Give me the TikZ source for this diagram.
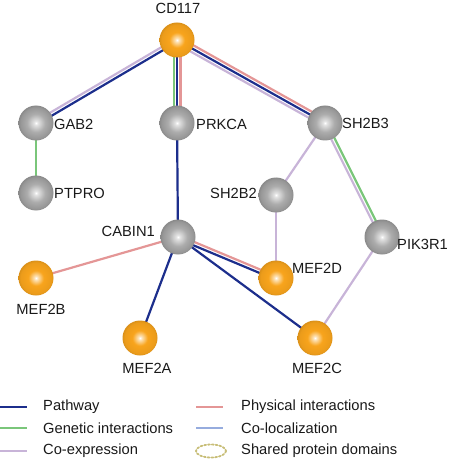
\documentclass[tikz,border=0pt]{standalone}
\usepackage{fontspec}
\setmainfont{Liberation Sans}
\usepackage{tikz}
\usetikzlibrary{calc, backgrounds}

\definecolor{pathway}{RGB}{28,46,140}
\definecolor{genetic}{RGB}{122,198,122}
\definecolor{coexp}{RGB}{200,180,216}
\definecolor{physical}{RGB}{228,150,150}
\definecolor{coloc}{RGB}{150,172,222}
\definecolor{domaincol}{RGB}{200,190,120}
\definecolor{nodeorange}{RGB}{248,164,28}
\definecolor{nodegray}{RGB}{172,172,172}

\pgfdeclareradialshading{orangeball}{\pgfpoint{0bp}{0bp}}{color(0bp)=(white); color(3bp)=(nodeorange!35!white); color(11bp)=(nodeorange); color(22bp)=(nodeorange!95!black); color(25bp)=(nodeorange!88!black); color(50bp)=(nodeorange!88!black)}
\pgfdeclareradialshading{grayball}{\pgfpoint{0bp}{0bp}}{color(0bp)=(white); color(3bp)=(nodegray!35!white); color(13bp)=(nodegray); color(22bp)=(nodegray!88!black); color(25bp)=(nodegray!80!black); color(50bp)=(nodegray!80!black)}

% one strand of a (possibly multi-coloured) link, shifted sideways by #4
\newcommand{\strand}[4]{\draw[link, draw=#3] ($(#1.center)!#4!90:(#2.center)$) -- ($(#2.center)!#4!-90:(#1.center)$);}

\begin{document}
\begin{tikzpicture}[x=1pt, y=-1pt,
    link/.style={line width=2.2pt},
    ball/.style={circle, minimum size=35pt, inner sep=0pt, shading=grayball},
    hub/.style={ball, shading=orangeball},
    lbl/.style={inner sep=0pt, font=\fontsize{14.7pt}{17pt}\selectfont, text=black!90}]
    \useasboundingbox (0,0) rectangle (450,462);

    % Genes
    \node[hub]  (cd117)  at (177,40)  {};
    \node[ball] (gab2)   at (36,123)  {};
    \node[ball] (prkca)  at (177,123) {};
    \node[ball] (sh2b3)  at (325,123) {};
    \node[ball] (ptpro)  at (36,193)  {};
    \node[ball] (sh2b2)  at (276,195) {};
    \node[ball] (cabin1) at (178,237) {};
    \node[ball] (pik3r1) at (382,237) {};
    \node[hub]  (mef2b)  at (36,278)  {};
    \node[hub]  (mef2d)  at (276,278) {};
    \node[hub]  (mef2a)  at (140,338) {};
    \node[hub]  (mef2c)  at (315,338) {};

    % Gene names
    \node[lbl] (cd117-l)  at (178,8)   {CD117};
    \node[lbl, anchor=west] (gab2-l)   at (54,124)  {GAB2};
    \node[lbl, anchor=west] (prkca-l)  at (196,124) {PRKCA};
    \node[lbl, anchor=west] (sh2b3-l)  at (342,123) {SH2B3};
    \node[lbl, anchor=west] (ptpro-l)  at (54,193)  {PTPRO};
    \node[lbl, anchor=east] (sh2b2-l)  at (257,193) {SH2B2};
    \node[lbl, anchor=west] (pik3r1-l) at (397,244) {PIK3R1};
    \node[lbl, anchor=east] (cabin1-l) at (155,231) {CABIN1};
    \node[lbl] (mef2b-l)  at (41,309)  {MEF2B};
    \node[lbl] (mef2d-l)  at (317,268) {MEF2D};
    \node[lbl] (mef2a-l)  at (147,368) {MEF2A};
    \node[lbl] (mef2c-l)  at (317,368) {MEF2C};

    % Links
    \begin{scope}[on background layer]
        \strand{cd117}{gab2}{pathway}{1.7pt}
        \strand{cd117}{gab2}{coexp}{-1.7pt}
        \strand{cd117}{prkca}{genetic}{-3.4pt}
        \strand{cd117}{prkca}{pathway}{0pt}
        \strand{cd117}{prkca}{physical}{3.4pt}
        \strand{cd117}{sh2b3}{physical}{3.4pt}
        \strand{cd117}{sh2b3}{pathway}{0pt}
        \strand{cd117}{sh2b3}{coexp}{-3.4pt}
        \strand{gab2}{ptpro}{genetic}{0pt}
        \strand{prkca}{cabin1}{pathway}{0pt}
        \strand{sh2b3}{sh2b2}{coexp}{0pt}
        \strand{sh2b3}{pik3r1}{genetic}{1.7pt}
        \strand{sh2b3}{pik3r1}{coexp}{-1.7pt}
        \strand{sh2b2}{mef2d}{coexp}{0pt}
        \strand{cabin1}{mef2b}{physical}{0pt}
        \strand{cabin1}{mef2d}{physical}{1.7pt}
        \strand{cabin1}{mef2d}{pathway}{-1.7pt}
        \strand{cabin1}{mef2a}{pathway}{0pt}
        \strand{cabin1}{mef2c}{pathway}{0pt}
        \strand{pik3r1}{mef2c}{coexp}{0pt}
    \end{scope}

    % Legend
    \coordinate (k1a) at (0,407);   \coordinate (k1b) at (27,407);
    \coordinate (k2a) at (0,428);   \coordinate (k2b) at (27,428);
    \coordinate (k3a) at (0,451);   \coordinate (k3b) at (27,451);
    \coordinate (k4a) at (196,407); \coordinate (k4b) at (223,407);
    \coordinate (k5a) at (196,428); \coordinate (k5b) at (223,428);
    \draw[link, draw=pathway]  (k1a) -- (k1b);
    \draw[link, draw=genetic]  (k2a) -- (k2b);
    \draw[link, draw=coexp]    (k3a) -- (k3b);
    \draw[link, draw=physical] (k4a) -- (k4b);
    \draw[link, draw=coloc]    (k5a) -- (k5b);
    \draw[draw=domaincol, line width=1.8pt, dotted, line cap=round] (211,451) ellipse (15 and 6.5);
    \node[lbl, anchor=west] (pathway-l)  at (43,407)  {Pathway};
    \node[lbl, anchor=west] (genetic-l)  at (43,428)  {Genetic interactions};
    \node[lbl, anchor=west] (coexp-l)    at (43,451)  {Co-expression};
    \node[lbl, anchor=west] (physical-l) at (241,407) {Physical interactions};
    \node[lbl, anchor=west] (coloc-l)    at (241,428) {Co-localization};
    \node[lbl, anchor=west] (domain-l)   at (241,451) {Shared protein domains};
\end{tikzpicture}
\end{document}
